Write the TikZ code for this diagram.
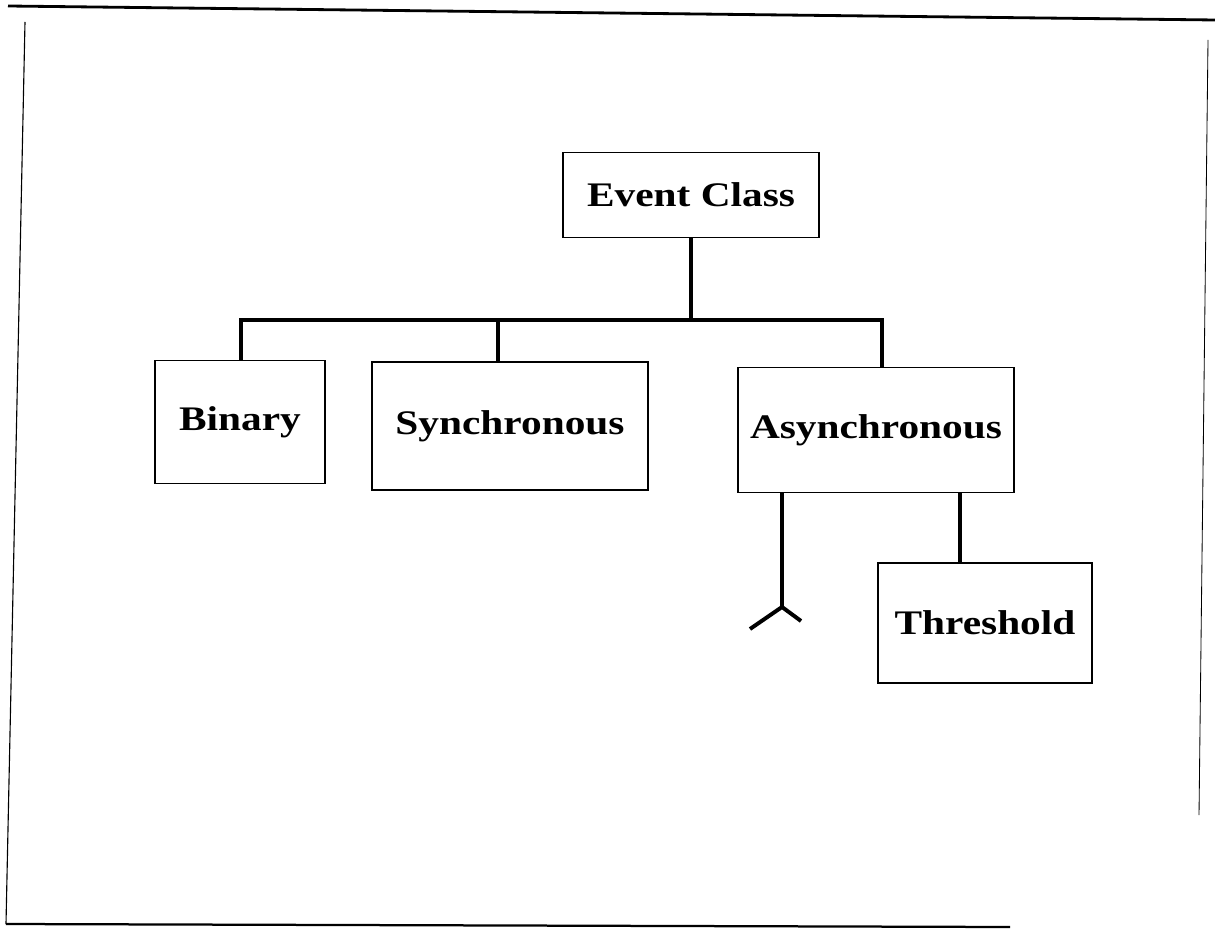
\documentclass[tikz,border=0pt]{standalone}
\usepackage{fontspec}
\setmainfont{Liberation Serif}[FakeStretch=1.2]
\usetikzlibrary{positioning}

\begin{document}
\begin{tikzpicture}[x=0.025cm, y=-0.025cm,
    classbox/.style={draw, line width=1.2pt, rectangle, inner sep=0pt,
      font=\fontsize{24.5}{28}\selectfont\bfseries},
    link/.style={line width=2.8pt}]
  \useasboundingbox (0,0) rectangle (1215,931);

  % Outer frame
  \draw[line width=2pt] (8,6) -- (1215,20);
  \draw[line width=0.8pt] (25,22) -- (6,924);
  \draw[line width=1.6pt] (6,924) -- (1010,927);
  \draw[line width=0.6pt] (1208,40) -- (1199,815);

  % Class boxes
  \node[classbox, minimum width=6.4cm, minimum height=2.125cm] (event) at (691,195) {Event Class};
  \node[classbox, minimum width=4.25cm, minimum height=3.075cm] (binary) at (240,422) {Binary};
  \node[classbox, minimum width=6.9cm, minimum height=3.2cm] (sync) at (510,426) {Synchronous};
  \node[classbox, minimum width=6.9cm, minimum height=3.125cm] (async) at (876,430) {Asynchronous};
  \node[classbox, minimum width=5.35cm, minimum height=3cm] (thresh) at (985,623) {Threshold};

  % Tree connectors
  \coordinate (barL) at (241,320);
  \coordinate (barS) at (498,320);
  \coordinate (barR) at (882,320);
  \draw[link] (event.south) -- (event.south |- barL);
  \draw[link] (binary.north -| barL) -- (barL) -- (barR) -- (async.north -| barR);
  \draw[link] (sync.north -| barS) -- (barS);

  % Open branch below Asynchronous
  \coordinate (fork) at (782,607);
  \draw[link] (async.south -| fork) -- (fork);
  \draw[link] (750,629) -- (fork) -- (801,621);

  % Asynchronous to Threshold
  \draw[link] (async.south -| 960,0) -- (thresh.north -| 960,0);
\end{tikzpicture}
\end{document}
